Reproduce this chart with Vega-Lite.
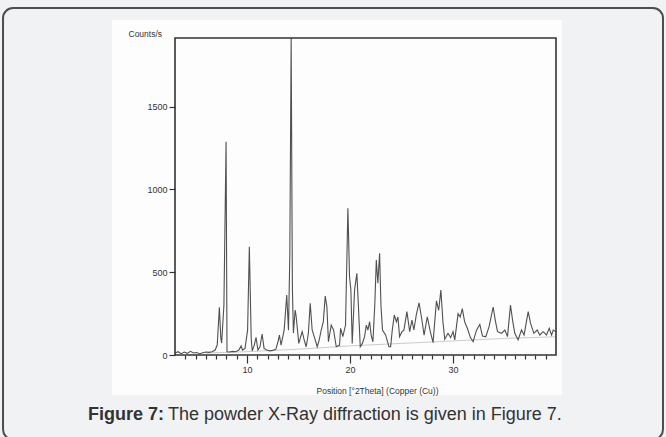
{
  "$schema": "https://vega.github.io/schema/vega-lite/v6.json",
  "width": 381,
  "height": 317,
  "autosize": {"type": "none"},
  "padding": {"left": 175, "top": 38, "right": 110, "bottom": 82},
  "background": "#f1f2f4",
  "config": {
    "view": {"stroke": null},
    "font": "Liberation Sans"
  },
  "resolve": {"axis": {"x": "independent"}},
  "title": {
    "text": "Figure 7:",
    "subtitle": "\u200b\u00a0\u00a0\u00a0\u00a0\u00a0\u00a0\u00a0\u00a0\u00a0\u00a0\u00a0\u00a0\u00a0\u00a0\u00a0\u00a0The powder X-Ray diffraction is given in Figure 7.",
    "orient": "bottom",
    "anchor": "start",
    "frame": "group",
    "dx": -87,
    "dy": -34,
    "offset": 0,
    "font": "Liberation Sans",
    "fontSize": 18,
    "fontWeight": "bold",
    "color": "#333333",
    "subtitleFont": "Liberation Sans",
    "subtitleFontSize": 18,
    "subtitleFontWeight": "normal",
    "subtitleColor": "#333333",
    "subtitlePadding": -18
  },
  "datasets": {
    "xrd": [
      {"theta": 3.0, "counts": 12}, {"theta": 3.3, "counts": 20}, {"theta": 3.6, "counts": 8},
      {"theta": 3.9, "counts": 18}, {"theta": 4.2, "counts": 10}, {"theta": 4.5, "counts": 22},
      {"theta": 4.8, "counts": 12}, {"theta": 5.1, "counts": 15}, {"theta": 5.4, "counts": 8},
      {"theta": 5.7, "counts": 14}, {"theta": 6.0, "counts": 18}, {"theta": 6.3, "counts": 16},
      {"theta": 6.6, "counts": 20}, {"theta": 6.9, "counts": 30}, {"theta": 7.1, "counts": 60},
      {"theta": 7.31, "counts": 288}, {"theta": 7.45, "counts": 100}, {"theta": 7.53, "counts": 72},
      {"theta": 7.75, "counts": 300}, {"theta": 7.96, "counts": 1288}, {"theta": 8.05, "counts": 20},
      {"theta": 8.3, "counts": 18}, {"theta": 8.6, "counts": 22}, {"theta": 8.9, "counts": 20},
      {"theta": 9.2, "counts": 30}, {"theta": 9.42, "counts": 55}, {"theta": 9.55, "counts": 30},
      {"theta": 9.8, "counts": 40}, {"theta": 10.05, "counts": 150}, {"theta": 10.22, "counts": 654},
      {"theta": 10.4, "counts": 100}, {"theta": 10.5, "counts": 25}, {"theta": 10.7, "counts": 60},
      {"theta": 10.87, "counts": 107}, {"theta": 11.05, "counts": 30}, {"theta": 11.25, "counts": 50},
      {"theta": 11.46, "counts": 127}, {"theta": 11.65, "counts": 40}, {"theta": 11.9, "counts": 30},
      {"theta": 12.2, "counts": 25}, {"theta": 12.5, "counts": 28}, {"theta": 12.8, "counts": 35},
      {"theta": 13.0, "counts": 80}, {"theta": 13.14, "counts": 120}, {"theta": 13.3, "counts": 60},
      {"theta": 13.6, "counts": 150}, {"theta": 13.85, "counts": 362}, {"theta": 14.02, "counts": 150},
      {"theta": 14.15, "counts": 600}, {"theta": 14.28, "counts": 1915}, {"theta": 14.4, "counts": 400},
      {"theta": 14.5, "counts": 133}, {"theta": 14.67, "counts": 272}, {"theta": 14.77, "counts": 231},
      {"theta": 15.02, "counts": 70}, {"theta": 15.35, "counts": 141}, {"theta": 15.55, "counts": 90},
      {"theta": 15.74, "counts": 50}, {"theta": 15.95, "counts": 130}, {"theta": 16.13, "counts": 312},
      {"theta": 16.32, "counts": 151}, {"theta": 16.52, "counts": 111}, {"theta": 16.81, "counts": 50},
      {"theta": 17.0, "counts": 90}, {"theta": 17.2, "counts": 151}, {"theta": 17.4, "counts": 200},
      {"theta": 17.59, "counts": 356}, {"theta": 17.75, "counts": 292}, {"theta": 17.9, "counts": 80},
      {"theta": 18.17, "counts": 181}, {"theta": 18.4, "counts": 151}, {"theta": 18.66, "counts": 50},
      {"theta": 18.98, "counts": 60}, {"theta": 19.08, "counts": 161}, {"theta": 19.3, "counts": 111},
      {"theta": 19.56, "counts": 181}, {"theta": 19.79, "counts": 886}, {"theta": 19.95, "counts": 473},
      {"theta": 20.08, "counts": 393}, {"theta": 20.21, "counts": 70}, {"theta": 20.44, "counts": 393},
      {"theta": 20.66, "counts": 493}, {"theta": 20.8, "counts": 312}, {"theta": 20.99, "counts": 50},
      {"theta": 21.2, "counts": 70}, {"theta": 21.41, "counts": 111}, {"theta": 21.58, "counts": 181},
      {"theta": 21.73, "counts": 150}, {"theta": 21.9, "counts": 201}, {"theta": 22.05, "counts": 120},
      {"theta": 22.22, "counts": 80}, {"theta": 22.4, "counts": 300}, {"theta": 22.55, "counts": 574},
      {"theta": 22.7, "counts": 433}, {"theta": 22.87, "counts": 614}, {"theta": 23.0, "counts": 300},
      {"theta": 23.15, "counts": 151}, {"theta": 23.45, "counts": 121}, {"theta": 23.78, "counts": 50},
      {"theta": 23.94, "counts": 50}, {"theta": 24.1, "counts": 150}, {"theta": 24.3, "counts": 242},
      {"theta": 24.5, "counts": 200}, {"theta": 24.65, "counts": 230}, {"theta": 24.81, "counts": 111},
      {"theta": 25.04, "counts": 141}, {"theta": 25.23, "counts": 150}, {"theta": 25.52, "counts": 262},
      {"theta": 25.79, "counts": 141}, {"theta": 26.01, "counts": 211}, {"theta": 26.2, "counts": 151},
      {"theta": 26.44, "counts": 245}, {"theta": 26.7, "counts": 315}, {"theta": 26.93, "counts": 231},
      {"theta": 27.19, "counts": 120}, {"theta": 27.5, "counts": 231}, {"theta": 27.8, "counts": 140},
      {"theta": 28.06, "counts": 75}, {"theta": 28.39, "counts": 327}, {"theta": 28.61, "counts": 270},
      {"theta": 28.82, "counts": 393}, {"theta": 29.02, "counts": 200}, {"theta": 29.2, "counts": 95},
      {"theta": 29.51, "counts": 131}, {"theta": 29.77, "counts": 105}, {"theta": 30.0, "counts": 141},
      {"theta": 30.17, "counts": 91}, {"theta": 30.49, "counts": 250}, {"theta": 30.7, "counts": 230},
      {"theta": 30.9, "counts": 280}, {"theta": 31.13, "counts": 200}, {"theta": 31.4, "counts": 160},
      {"theta": 31.69, "counts": 105}, {"theta": 31.95, "counts": 80}, {"theta": 32.28, "counts": 150},
      {"theta": 32.6, "counts": 185}, {"theta": 32.86, "counts": 115}, {"theta": 33.18, "counts": 110},
      {"theta": 33.5, "counts": 171}, {"theta": 33.9, "counts": 290}, {"theta": 34.1, "counts": 211},
      {"theta": 34.32, "counts": 141}, {"theta": 34.71, "counts": 131}, {"theta": 35.03, "counts": 151},
      {"theta": 35.29, "counts": 111}, {"theta": 35.58, "counts": 302}, {"theta": 35.78, "counts": 211},
      {"theta": 36.0, "counts": 131}, {"theta": 36.32, "counts": 91}, {"theta": 36.65, "counts": 151},
      {"theta": 36.9, "counts": 121}, {"theta": 37.3, "counts": 262}, {"theta": 37.53, "counts": 191},
      {"theta": 37.85, "counts": 131}, {"theta": 38.17, "counts": 151}, {"theta": 38.43, "counts": 121},
      {"theta": 38.75, "counts": 141}, {"theta": 39.08, "counts": 121}, {"theta": 39.34, "counts": 161},
      {"theta": 39.57, "counts": 121}, {"theta": 39.73, "counts": 151}, {"theta": 40.0, "counts": 140}
    ],
    "bg": [
      {"theta": 6.0, "counts": 12}, {"theta": 10.0, "counts": 20}, {"theta": 15.0, "counts": 35},
      {"theta": 20.0, "counts": 55}, {"theta": 25.0, "counts": 70}, {"theta": 30.0, "counts": 85},
      {"theta": 35.0, "counts": 100}, {"theta": 40.0, "counts": 110}
    ]
  },
  "layer": [
    {
      "data": {"values": [{}]},
      "mark": {"type": "rect", "fillOpacity": 0, "stroke": "#4d4d4d", "strokeWidth": 2, "cornerRadius": 10, "clip": false},
      "encoding": {
        "x": {"datum": -13.7, "type": "quantitative", "axis": null},
        "x2": {"datum": 50.39},
        "y": {"datum": 2096, "type": "quantitative", "title": "Counts/s"},
        "y2": {"datum": -510}
      }
    },
    {
      "data": {"values": [{}]},
      "mark": {"type": "rect", "fill": "#fdfdfd", "clip": false},
      "encoding": {
        "x": {"datum": -3.12, "type": "quantitative", "axis": null},
        "x2": {"datum": 40.58},
        "y": {"datum": 2024, "type": "quantitative", "title": "Counts/s"},
        "y2": {"datum": -242}
      }
    },
    {
      "data": {"name": "bg"},
      "mark": {"type": "line", "stroke": "#cccccc", "strokeWidth": 1},
      "encoding": {
        "x": {"field": "theta", "type": "quantitative", "axis": null},
        "y": {"field": "counts", "type": "quantitative", "title": "Counts/s"}
      }
    },
    {
      "data": {"name": "xrd"},
      "mark": {"type": "line", "stroke": "#505050", "strokeWidth": 1.1, "clip": true},
      "encoding": {
        "x": {
          "field": "theta",
          "type": "quantitative",
          "title": "Position [°2Theta] (Copper (Cu))",
          "scale": {"domain": [3, 40], "nice": false, "zero": false},
          "axis": {
            "orient": "bottom",
            "zindex": 2,
            "values": [10, 20, 30],
            "tickSize": 8,
            "labelPadding": 2,
            "labelFontSize": 9,
            "labelColor": "#333333",
            "tickColor": "#333333",
            "tickWidth": 1.2,
            "domain": false,
            "grid": false,
            "titleFontSize": 8.5,
            "titleFontWeight": "normal",
            "titleColor": "#333333",
            "titleX": 202,
            "titleY": 35,
            "titleAlign": "center",
            "titleBaseline": "middle"
          }
        },
        "y": {
          "field": "counts",
          "type": "quantitative",
          "title": "Counts/s",
          "scale": {"domain": [0, 1915], "nice": false, "zero": false},
          "axis": {
            "zindex": 2,
            "values": [0, 500, 1000, 1500],
            "format": "d",
            "tickSize": 6,
            "labelPadding": 2,
            "labelFontSize": 9,
            "labelColor": "#333333",
            "tickColor": "#333333",
            "tickWidth": 1.2,
            "domain": false,
            "grid": false,
            "titleAngle": 0,
            "titleFontSize": 8.5,
            "titleFontWeight": "normal",
            "titleColor": "#333333",
            "titleX": -47,
            "titleY": -5,
            "titleAlign": "left",
            "titleBaseline": "middle"
          }
        }
      }
    },
    {
      "data": {"values": [{}]},
      "mark": {"type": "rect", "fillOpacity": 0, "stroke": "#333333", "strokeWidth": 1.6, "clip": false},
      "encoding": {
        "x": {
          "datum": 3,
          "type": "quantitative",
          "axis": {
            "orient": "bottom",
            "zindex": 2,
            "values": [4, 5, 6, 7, 8, 9, 11, 12, 13, 14, 15, 16, 17, 18, 19, 21, 22, 23, 24, 25, 26, 27, 28, 29, 31, 32, 33, 34, 35, 36, 37, 38, 39],
            "tickSize": 4,
            "tickColor": "#333333",
            "tickWidth": 1.2,
            "labels": false,
            "domain": false,
            "grid": false,
            "title": null
          }
        },
        "x2": {"datum": 40},
        "y": {"datum": 1915, "type": "quantitative", "title": "Counts/s"},
        "y2": {"datum": 0}
      }
    }
  ]
}
